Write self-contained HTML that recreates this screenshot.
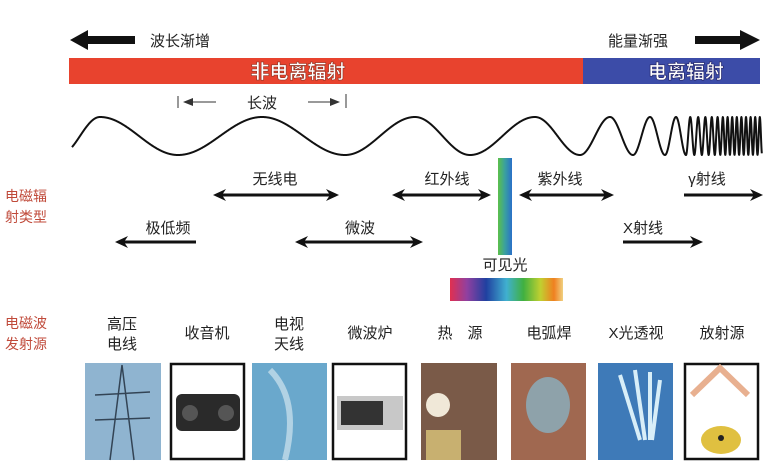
<!DOCTYPE html>
<html><head><meta charset="utf-8"><style>
html,body{margin:0;padding:0;background:#fff;}
svg{display:block}
text{font-family:"Liberation Sans","Noto Sans CJK SC",sans-serif;}
</style></head><body>
<svg id="s" width="767" height="476" viewBox="0 0 767 476" xmlns="http://www.w3.org/2000/svg">
<defs>
<marker id="ah" markerWidth="13" markerHeight="12" refX="10" refY="6" orient="auto-start-reverse" markerUnits="userSpaceOnUse">
<path d="M0,0 L13,6 L0,12 L4,6 Z" fill="#111"/></marker>
<marker id="ahs" markerWidth="10" markerHeight="8" refX="8" refY="4" orient="auto-start-reverse" markerUnits="userSpaceOnUse">
<path d="M0,0 L10,4 L0,8 Z" fill="#333"/></marker>
<linearGradient id="vg" x1="0" x2="1"><stop offset="0" stop-color="#5cc04a"/><stop offset="0.5" stop-color="#3aa0a0"/><stop offset="1" stop-color="#2a70c8"/></linearGradient>
<linearGradient id="sp" x1="0" x2="1">
<stop offset="0" stop-color="#e03050"/><stop offset="0.15" stop-color="#9040a0"/><stop offset="0.32" stop-color="#2040a0"/><stop offset="0.5" stop-color="#40b0d0"/><stop offset="0.65" stop-color="#40b040"/><stop offset="0.8" stop-color="#c0d030"/><stop offset="0.92" stop-color="#f08020"/><stop offset="1" stop-color="#f0d080"/></linearGradient>
</defs>
<path d="M135,36 L135,44 L88,44 L88,50 L70,40 L88,30 L88,36 Z" fill="#111"/>
<text x="150" y="46" font-size="15" fill="#222">波长渐增</text>
<text x="608" y="46" font-size="15" fill="#222">能量渐强</text>
<path d="M695,36 L740,36 L740,30 L760,40 L740,50 L740,44 L695,44 Z" fill="#111"/>
<rect x="69" y="58" width="514" height="26" fill="#e8432e"/>
<rect x="583" y="58" width="177" height="26" fill="#3c4ca8"/>
<text x="298" y="78" font-size="19" font-weight="bold" fill="#fff" text-anchor="middle" stroke="#8a3020" stroke-width="0.6">非电离辐射</text>
<text x="686" y="78" font-size="19" font-weight="bold" fill="#fff" text-anchor="middle" stroke="#202060" stroke-width="0.6">电离辐射</text>
<line x1="178" y1="96" x2="178" y2="108" stroke="#333"/>
<line x1="346" y1="94" x2="346" y2="108" stroke="#333"/>
<path d="M185,102 L216,102" stroke="#333" stroke-width="1" marker-start="url(#ahs)" />
<path d="M308,102 L338,102" stroke="#333" stroke-width="1" marker-end="url(#ahs)"/>
<text x="262" y="108" font-size="15" fill="#222" text-anchor="middle">长波</text>
<path id="wave" d="" fill="none" stroke="#111" stroke-width="2" stroke-linejoin="round"/>
<text x="5" y="201" font-size="14" fill="#c04a3a">电磁辐</text>
<text x="5" y="222" font-size="14" fill="#c04a3a">射类型</text>
<text x="5" y="328" font-size="14" fill="#c04a3a">电磁波</text>
<text x="5" y="349" font-size="14" fill="#c04a3a">发射源</text>
<g font-size="15" fill="#222" text-anchor="middle">
<text x="275" y="184">无线电</text>
<text x="447" y="184">红外线</text>
<text x="560" y="184">紫外线</text>
<text x="707" y="184">γ射线</text>
<text x="168" y="233">极低频</text>
<text x="360" y="233">微波</text>
<text x="643" y="233">X射线</text>
<text x="505" y="270">可见光</text>
</g>
<g stroke="#111" stroke-width="3" fill="none">
<path d="M216,195 L336,195" marker-start="url(#ah)" marker-end="url(#ah)"/>
<path d="M395,195 L488,195" marker-start="url(#ah)" marker-end="url(#ah)"/>
<path d="M522,195 L611,195" marker-start="url(#ah)" marker-end="url(#ah)"/>
<path d="M684,195 L760,195" marker-end="url(#ah)"/>
<path d="M196,242 L118,242" marker-end="url(#ah)"/>
<path d="M298,242 L420,242" marker-start="url(#ah)" marker-end="url(#ah)"/>
<path d="M623,242 L700,242" marker-end="url(#ah)"/>
</g>
<rect x="498" y="158" width="14" height="97" fill="url(#vg)"/>
<rect x="450" y="278" width="113" height="23" fill="url(#sp)"/>
<g font-size="15" fill="#222" text-anchor="middle">
<text x="122" y="329">高压</text><text x="122" y="349">电线</text>
<text x="207" y="338">收音机</text>
<text x="289" y="329">电视</text><text x="289" y="349">天线</text>
<text x="370" y="338">微波炉</text>
<text x="460" y="338">热　源</text>
<text x="549" y="338">电弧焊</text>
<text x="636" y="338">X光透视</text>
<text x="722" y="338">放射源</text>
</g>
<rect x="85" y="363" width="76" height="97" fill="#8fb4d0"/>
<path d="M122,365 L110,460 M122,365 L134,460 M95,395 L150,392 M95,420 L150,418" stroke="#345" stroke-width="1.5"/>
<rect x="171" y="364" width="73" height="95" fill="#fff" stroke="#111" stroke-width="2.5"/>
<rect x="176" y="394" width="64" height="37" rx="6" fill="#2a2a2a"/>
<circle cx="190" cy="413" r="8" fill="#555"/><circle cx="226" cy="413" r="8" fill="#555"/>
<rect x="252" y="363" width="75" height="97" fill="#6aa8cc"/>
<path d="M270,370 Q300,400 285,460" stroke="#d0e4ee" stroke-width="6" fill="none" opacity="0.7"/>
<rect x="333" y="364" width="73" height="95" fill="#fff" stroke="#111" stroke-width="2.5"/>
<rect x="337" y="396" width="66" height="34" fill="#c8c8c8"/><rect x="341" y="401" width="42" height="24" fill="#333"/>
<rect x="421" y="363" width="76" height="97" fill="#7a5a48"/>
<circle cx="438" cy="405" r="12" fill="#f0e8d8"/>
<rect x="426" y="430" width="35" height="30" fill="#c8b070"/>
<rect x="511" y="363" width="75" height="97" fill="#a06850"/>
<ellipse cx="548" cy="405" rx="22" ry="28" fill="#8ab0c0" opacity="0.8"/>
<rect x="598" y="363" width="75" height="97" fill="#3e7ab8"/>
<path d="M620,375 L640,440 M635,370 L645,440 M650,372 L650,440 M660,380 L652,440" stroke="#d8eef8" stroke-width="4"/>
<rect x="685" y="364" width="73" height="95" fill="#fff" stroke="#111" stroke-width="2.5"/>
<path d="M692,395 L720,368 L748,395" stroke="#e8b090" stroke-width="6" fill="none"/>
<ellipse cx="721" cy="440" rx="20" ry="14" fill="#e0c040"/>
<circle cx="721" cy="438" r="3" fill="#222"/>
</svg>
<script>
(function(){
var pts=[[72,0.3],[100,1],[178,2],[262,3],[345,4],[415,5],[470,6],[535,7],[580,8],[610,9],[633,10],[650,11],[665,12],[676,13],[686,14]];
var x=686,k=14,h=4.5;
while(x<764){h=Math.max(2.3,h*0.95);x+=h;k++;pts.push([x,k]);}
function ph(x){for(var i=0;i<pts.length-1;i++){if(x<=pts[i+1][0]){var a=pts[i],b=pts[i+1];return (a[1]+(b[1]-a[1])*(x-a[0])/(b[0]-a[0]))*Math.PI;}}return pts[pts.length-1][1]*Math.PI;}
var d="";
for(var xx=72;xx<=762;xx+=0.2){var y=136+19*Math.cos(ph(xx));d+=(d?"L":"M")+xx.toFixed(2)+","+y.toFixed(2);}
document.getElementById("wave").setAttribute("d",d);
})();
</script>
</body></html>
